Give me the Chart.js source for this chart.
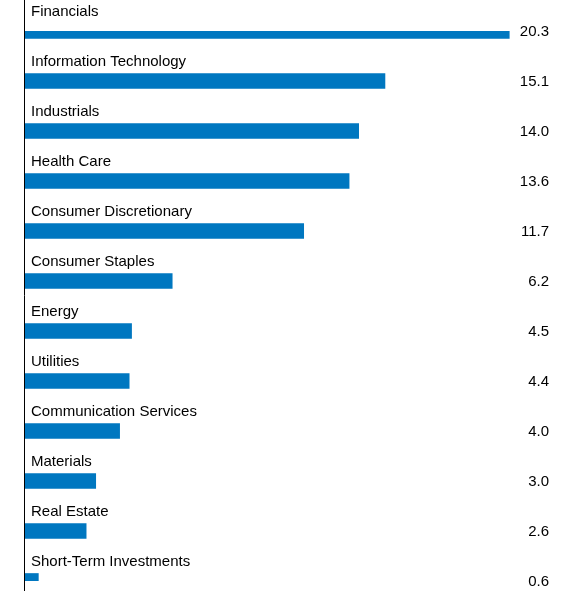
<!DOCTYPE html>
<html><head><script src="https://cdn.jsdelivr.net/npm/chart.js"></script>
<style>html,body{margin:0;padding:0;background:#fff}#w{width:573px;height:598px}</style></head>
<body><div id="w"><canvas id="c"></canvas></div>
<script>
const categories=["Financials","Information Technology","Industrials","Health Care","Consumer Discretionary","Consumer Staples","Energy","Utilities","Communication Services","Materials","Real Estate","Short-Term Investments"];
const values=[20.3,15.1,14.0,13.6,11.7,6.2,4.5,4.4,4.0,3.0,2.6,0.6];
const labelsPlugin={id:'lbl',afterDatasetsDraw(ch){
 const ctx=ch.ctx,meta=ch.getDatasetMeta(0);ctx.save();
 ctx.font='15px "Liberation Sans", Arial, sans-serif';ctx.fillStyle='#000';ctx.textBaseline='middle';
 meta.data.forEach((b,i)=>{ctx.textAlign='left';ctx.fillText(categories[i],31,b.y-19);
  ctx.textAlign='right';ctx.fillText(values[i].toFixed(1),549,b.y+1);});
 ctx.strokeStyle='#000';ctx.lineWidth=1;ctx.beginPath();ctx.moveTo(24.5,0);ctx.lineTo(24.5,591);ctx.stroke();
 ctx.restore();}};
new Chart(document.getElementById('c'),{type:'bar',
 data:{labels:categories,datasets:[{data:values,backgroundColor:'#0077c0',barThickness:15}]},
 options:{indexAxis:'y',responsive:true,maintainAspectRatio:false,animation:false,
  layout:{padding:{left:24,right:47,top:31,bottom:17}},
  plugins:{legend:{display:false},tooltip:{enabled:false}},
  scales:{x:{display:false,min:0,max:21},y:{display:false,offset:false}}},
 plugins:[labelsPlugin]});
</script></body></html>
